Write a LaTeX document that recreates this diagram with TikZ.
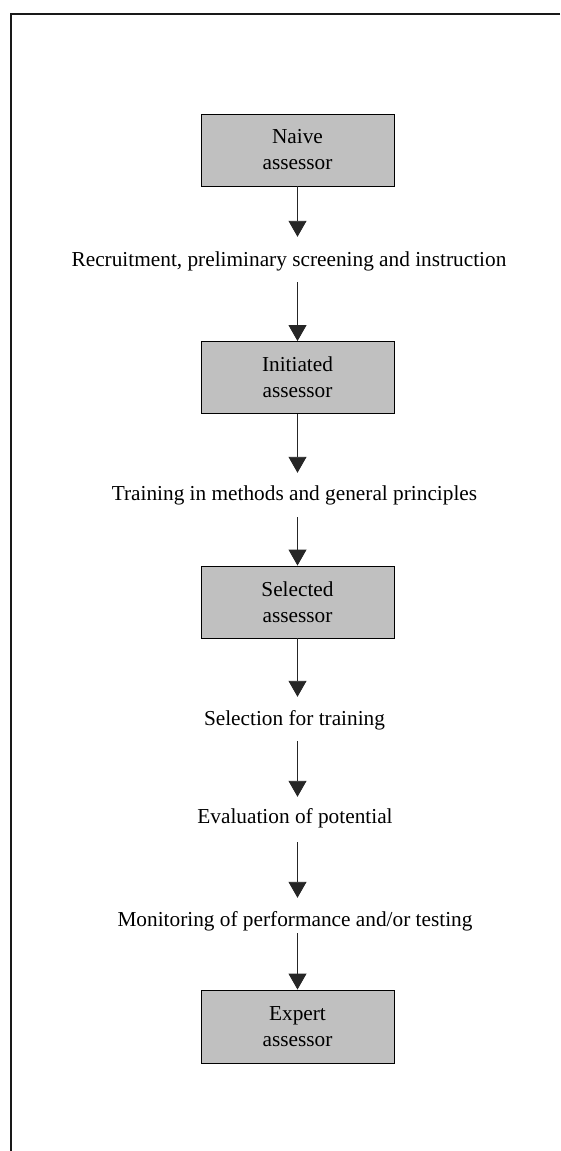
\documentclass[tikz,border=0pt]{standalone}
\usepackage{fontspec}
\setmainfont{Liberation Serif}
\usetikzlibrary{arrows.meta}
\definecolor{boxgray}{RGB}{192,192,192}
\begin{document}
\begin{tikzpicture}[x=1pt,y=-1pt,
  stagebox/.style={draw=black,line width=0.9pt,fill=boxgray,minimum width=193pt,minimum height=72pt,
    inner sep=0pt,align=center,font=\fontsize{21.3}{26}\selectfont},
  steplabel/.style={inner sep=0pt,text height=15pt,text depth=5pt,font=\fontsize{21.3}{26}\selectfont},
  flow/.style={draw=black!85,line width=0.9pt,-{Triangle[width=18pt,length=16pt]}},
  frameline/.style={draw=black!90,line width=1.3pt}]
\useasboundingbox (0,0) rectangle (560,1151);
\coordinate (ftr) at (560,14);
\coordinate (ftl) at (11,14);
\coordinate (fbl) at (11,1151);
\draw[frameline] (ftr) -- (ftl) -- (fbl);

\node[stagebox] (b1) at (297.5,150) {Naive\\assessor};
\node[stagebox] (b2) at (297.5,377.5) {Initiated\\assessor};
\node[stagebox] (b3) at (297.5,602) {Selected\\assessor};
\node[stagebox,minimum height=73pt] (b4) at (297.5,1026.5) {Expert\\assessor};

\node[steplabel] (l1) at (289,261) {Recruitment, preliminary screening and instruction};
\node[steplabel] (l2) at (294.5,495) {Training in methods and general principles};
\node[steplabel] (l3) at (294.5,720) {Selection for training};
\node[steplabel] (l4) at (295,818) {Evaluation of potential};
\node[steplabel] (l5) at (295,921) {Monitoring of performance and/or testing};

\draw[flow,shorten >=14pt] (b1.south) -- (b1.south |- l1.north);
\draw[flow,shorten <=11pt] (b2.north |- l1.south) -- (b2.north);
\draw[flow,shorten >=12pt] (b2.south) -- (b2.south |- l2.north);
\draw[flow,shorten <=12pt] (b3.north |- l2.south) -- (b3.north);
\draw[flow,shorten >=13pt] (b3.south) -- (b3.south |- l3.north);
\draw[flow,shorten <=11pt,shorten >=11pt] (b3.south |- l3.south) -- (b3.south |- l4.north);
\draw[flow,shorten <=14pt,shorten >=13pt] (b3.south |- l4.south) -- (b3.south |- l5.north);
\draw[flow,shorten <=2pt] (b4.north |- l5.south) -- (b4.north);
\end{tikzpicture}
\end{document}
